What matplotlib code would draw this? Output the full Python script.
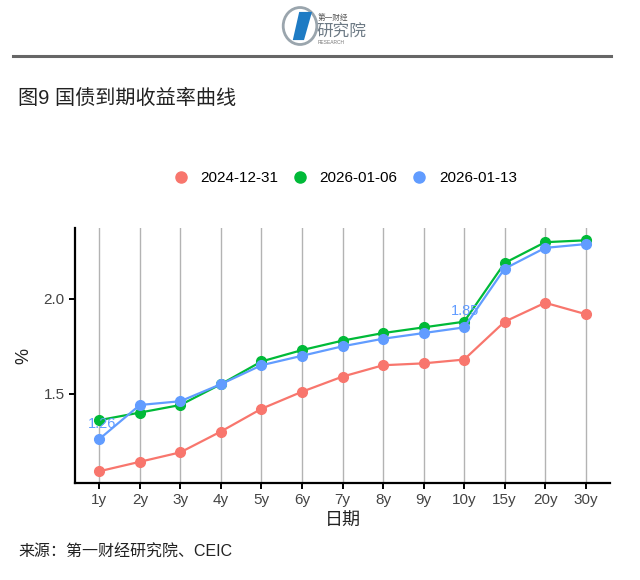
import matplotlib
matplotlib.use("Agg")
import matplotlib.pyplot as plt
from matplotlib.patches import Circle, Polygon
from matplotlib.lines import Line2D

plt.rcParams['font.family'] = ['Liberation Sans', 'Noto Sans CJK SC', 'DejaVu Sans']

tenors = ["1y", "2y", "3y", "4y", "5y", "6y", "7y", "8y", "9y", "10y", "15y", "20y", "30y"]
s_20241231 = [1.09, 1.14, 1.19, 1.30, 1.42, 1.51, 1.59, 1.65, 1.66, 1.68, 1.88, 1.98, 1.92]
s_20260106 = [1.36, 1.40, 1.44, 1.55, 1.67, 1.73, 1.78, 1.82, 1.85, 1.88, 2.19, 2.30, 2.31]
s_20260113 = [1.26, 1.44, 1.46, 1.55, 1.65, 1.70, 1.75, 1.79, 1.82, 1.85, 2.16, 2.27, 2.29]
series_names = ["2024-12-31", "2026-01-06", "2026-01-13"]
colors = ["#F8766D", "#00BA38", "#619CFF"]
label_points = {0: "1.26", 9: "1.85"}

fig = plt.figure(figsize=(6.4, 5.8), dpi=100)

# header logo
fig.add_artist(Line2D([13/640, 611/640], [1-56/580, 1-56/580], color="#666666", lw=2.2))
lax = fig.add_axes([280/640, 1-48/580, 40/640, 44/580])
lax.set_xlim(0, 1); lax.set_ylim(0, 1); lax.axis("off")
lax.add_patch(Circle((0.5, 0.5), 0.42, fill=False, ec="#9aa5ad", lw=2.0))
lax.add_patch(Polygon([[0.32, 0.18], [0.48, 0.82], [0.80, 0.82], [0.60, 0.18]], closed=True, fc="#1E7BC4", ec="none"))
fig.text(318/640, 1-18/580, "第一财经", fontsize=5.5, color="#555555", ha="left", va="center")
fig.text(316/640, 1-31/580, "研究院", fontsize=12, color="#6d7a85", ha="left", va="center")
fig.text(318/640, 1-43/580, "RESEARCH", fontsize=3.5, color="#777777", ha="left", va="center")

fig.text(18/640, 1-98/580, "图9 国债到期收益率曲线", fontsize=14.5, color="#222222", ha="left", va="center")
fig.text(18/640, 1-552/580, "来源：第一财经研究院、CEIC", fontsize=11.5, color="#222222", ha="left", va="center")

ax = fig.add_axes([75/640, 1-483/580, 535/640, 255/580])
x = list(range(len(tenors)))
for vals, name, c in zip([s_20241231, s_20260106, s_20260113], series_names, colors):
    ax.plot(x, vals, color=c, lw=1.6, marker="o", markersize=7, label=name, zorder=3)

for i, txt in label_points.items():
    ax.annotate(txt, (x[i], s_20260113[i]), xytext=(1, 12) if i == 9 else (2, 11),
                textcoords="offset points", ha="center", va="center",
                color="#619CFF", fontsize=10.5, zorder=4)

ax.set_xlim(-0.6, len(tenors) - 1 + 0.6)
ax.set_ylim(1.028, 2.375)
ax.set_xticks(x)
ax.set_xticklabels(tenors)
ax.set_yticks([1.5, 2.0])
ax.set_yticklabels(["1.5", "2.0"])
for xi in x:
    ax.axvline(xi, color="#b3b3b3", lw=1.0, zorder=1)
for s in ["top", "right"]:
    ax.spines[s].set_visible(False)
for s in ["left", "bottom"]:
    ax.spines[s].set_linewidth(1.6)
    ax.spines[s].set_color("black")
ax.tick_params(axis="both", length=4, width=1.4, colors="black", labelcolor="#444444", labelsize=11)
ax.set_xlabel("日期", fontsize=13, color="#222222", labelpad=4)
ax.set_ylabel("%", fontsize=13, color="#222222", labelpad=8)

handles = [Line2D([], [], marker="o", color=c, lw=0, markersize=8) for c in colors]
fig.legend(handles, series_names, loc="center", bbox_to_anchor=(345/640, 1-178/580), ncol=3,
           frameon=False, fontsize=11, handlelength=1.0, handletextpad=0.8, columnspacing=0.9)

fig.savefig("out.png", dpi=100)
